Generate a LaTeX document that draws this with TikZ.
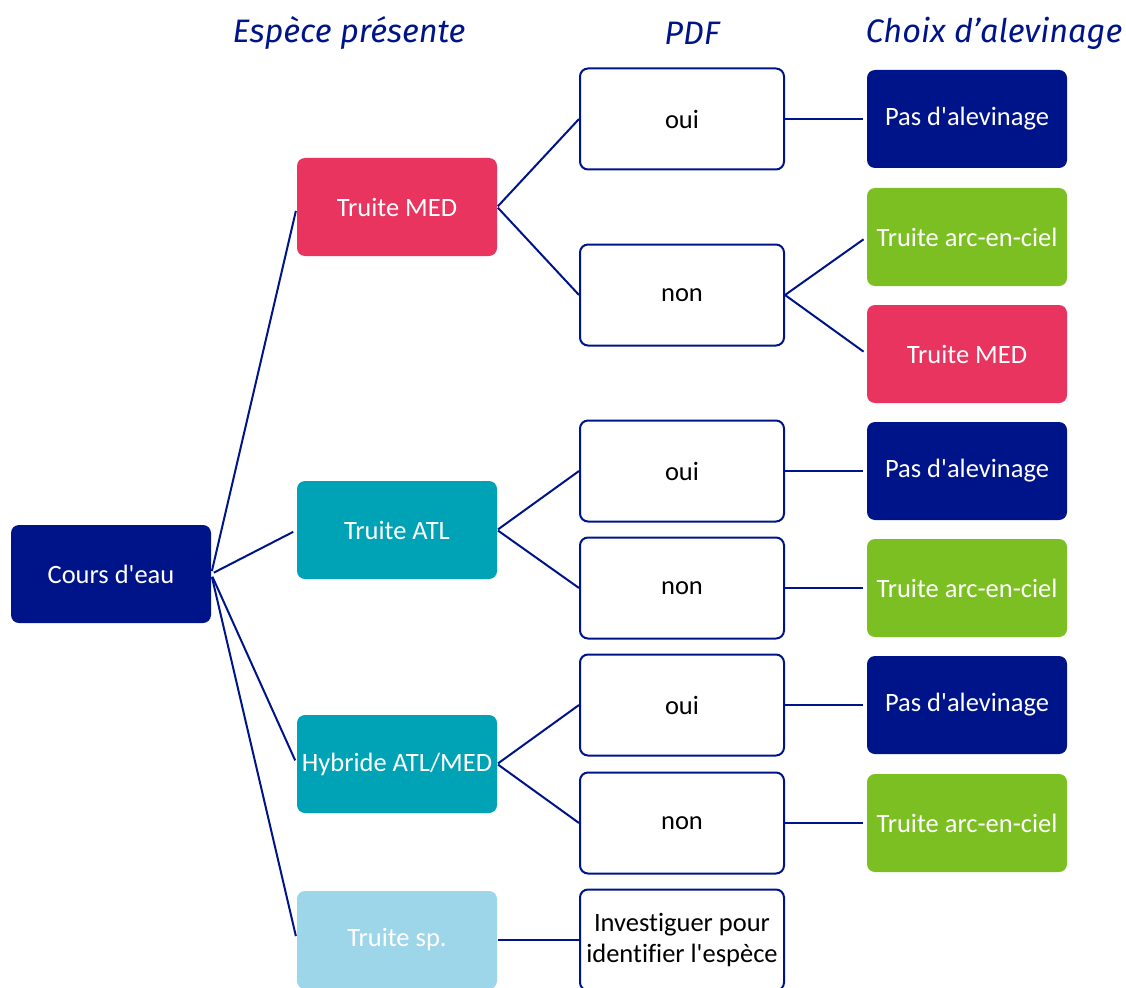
\documentclass[tikz,border=0pt]{standalone}
\usepackage{fontspec}
\setmainfont{Carlito}[Ligatures=NoCommon]
\newfontfamily\hdrfont{Fira Sans}
\definecolor{navy}{RGB}{0,20,137}
\definecolor{medred}{RGB}{232,52,95}
\definecolor{teal}{RGB}{0,162,181}
\definecolor{lightblue}{RGB}{157,213,233}
\definecolor{green}{RGB}{123,191,34}
\tikzset{
  box/.style={rounded corners=8pt, minimum width=200pt, minimum height=98pt, inner sep=0pt, align=center, font=\fontsize{26.5}{31}\selectfont},
  filled/.style={box, fill=#1, text=white},
  pdfbox/.style={box, minimum width=204pt, minimum height=101pt, draw=navy, line width=2pt, fill=white, text=black},
  hdr/.style={text=navy, font=\hdrfont\itshape\fontsize{32.5}{36}\selectfont},
  conn/.style={draw=navy, line width=2pt},
}
\newcommand{\ap}{\textquotesingle}
\begin{document}
\begin{tikzpicture}[x=1pt,y=-1pt]
\useasboundingbox (0,0) rectangle (1126,987);
\begin{scope}
\clip (0,0) rectangle (1126,987);
% headers
\node[hdr] (h1) at (349,33) {Espèce présente};
\node[hdr] (h2) at (692,33) {PDF};
\node[hdr] (h3) at (994,33) {Choix d’alevinage};
% root
\node[filled=navy] (root) at (111,574) {Cours d\ap eau};
% species
\node[filled=medred] (med) at (397,207) {Truite MED};
\node[filled=teal] (atl) at (397,530) {Truite ATL};
\node[filled=teal] (hyb) at (397,764) {Hybride ATL/MED};
\node[filled=lightblue] (sp) at (397,940) {Truite sp.};
% PDF
\node[pdfbox] (o1) at (682,119) {oui};
\node[pdfbox] (n1) at (682,295) {non};
\node[pdfbox] (o2) at (682,471) {oui};
\node[pdfbox] (n2) at (682,588) {non};
\node[pdfbox] (o3) at (682,705) {oui};
\node[pdfbox] (n3) at (682,823) {non};
\node[pdfbox] (inv) at (682,940) {Investiguer pour\\identifier l\ap espèce};
% choices
\node[filled=navy] (c1) at (967,119) {Pas d\ap alevinage};
\node[filled=green] (c2) at (967,237) {Truite arc-en-ciel};
\node[filled=medred] (c3) at (967,354) {Truite MED};
\node[filled=navy] (c4) at (967,471) {Pas d\ap alevinage};
\node[filled=green] (c5) at (967,588) {Truite arc-en-ciel};
\node[filled=navy] (c6) at (967,705) {Pas d\ap alevinage};
\node[filled=green] (c7) at (967,823) {Truite arc-en-ciel};
% connectors
\foreach \t in {med,atl,hyb,sp}
  \draw[conn, shorten <=3pt, shorten >=4pt] (root.east) -- (\t.west);
\draw[conn, shorten <=1pt] (med.east) -- (o1.west);
\draw[conn, shorten <=1pt] (med.east) -- (n1.west);
\draw[conn, shorten <=1pt] (atl.east) -- (o2.west);
\draw[conn, shorten <=1pt] (atl.east) -- (n2.west);
\draw[conn, shorten <=1pt] (hyb.east) -- (o3.west);
\draw[conn, shorten <=1pt] (hyb.east) -- (n3.west);
\draw[conn, shorten <=1pt] (sp.east) -- (inv.west);
\draw[conn, shorten >=4pt] (o1.east) -- (c1.west);
\draw[conn, shorten >=4pt] (n1.east) -- (c2.west);
\draw[conn, shorten >=4pt] (n1.east) -- (c3.west);
\draw[conn, shorten >=4pt] (o2.east) -- (c4.west);
\draw[conn, shorten >=4pt] (n2.east) -- (c5.west);
\draw[conn, shorten >=4pt] (o3.east) -- (c6.west);
\draw[conn, shorten >=4pt] (n3.east) -- (c7.west);
\end{scope}
\end{tikzpicture}
\end{document}
